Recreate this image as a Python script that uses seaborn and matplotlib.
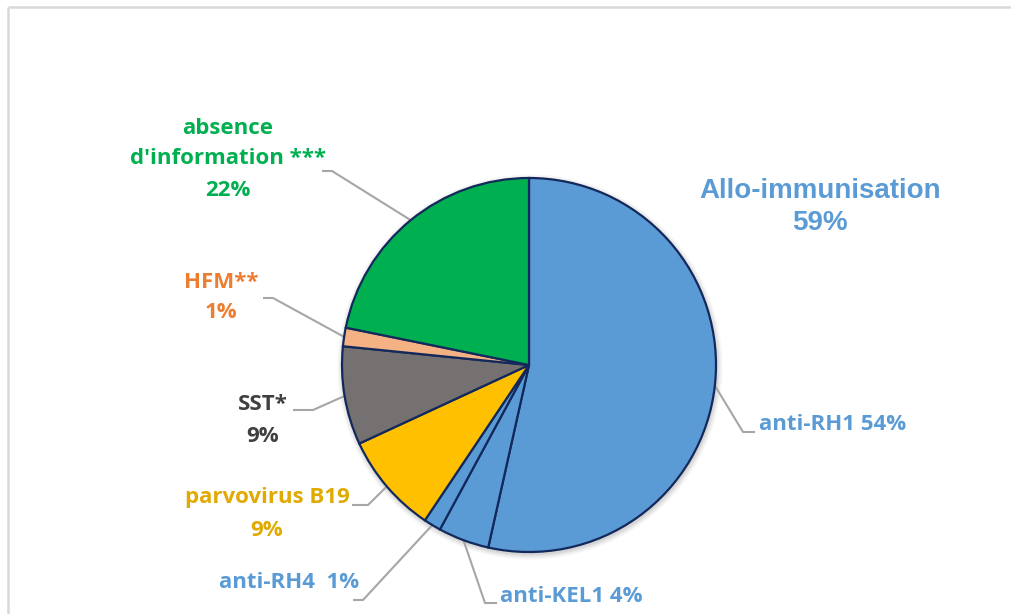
import matplotlib
matplotlib.use("Agg")
import matplotlib.pyplot as plt
import seaborn as sns
import numpy as np

# ---- data ----
categories = ["anti-RH1", "anti-KEL1", "anti-RH4", "parvovirus B19", "SST*", "HFM**",
              "absence d'information ***"]
values = [53.5, 4.4, 1.5, 8.7, 8.5, 1.6, 21.8]
pct_labels = ["54%", "4%", "1%", "9%", "9%", "1%", "22%"]
group_label = "Allo-immunisation"
group_pct = "59%"

# ---- style ----
sns.set_theme(style="white")
plt.rcParams['font.family'] = ['Open Sans', 'DejaVu Sans']

fill_colors = ["#5B9BD5", "#5B9BD5", "#5B9BD5", "#FFC000", "#767171", "#F4B183", "#00B050"]
text_colors = ["#5B9BD5", "#5B9BD5", "#5B9BD5", "#E0AA00", "#404040", "#ED7D31", "#00B050"]
edge_color = "#13295C"
leader_color = "#A6A6A6"

W, H = 1012, 614
fig = plt.figure(figsize=(W / 100, H / 100), dpi=100)
ax = fig.add_axes([0, 0, 1, 1])

cx, cy, R = 529, H - 365, 187

# subtle shadow
for i, a in enumerate([0.05, 0.05, 0.04, 0.03]):
    ax.add_patch(plt.Circle((cx + 1, cy - 2), R + 1 + i * 1.5, color="black", alpha=a,
                            lw=0, zorder=0))

wedges, _ = ax.pie(values, colors=fill_colors, startangle=90, counterclock=False,
                   center=(cx, cy), radius=R,
                   wedgeprops=dict(edgecolor=edge_color, linewidth=1.6))
for w in wedges:
    w.set_zorder(2)

ax.set_xlim(0, W)
ax.set_ylim(0, H)
ax.set_aspect('equal')
ax.axis('off')

def py(y):
    return H - y

# layout: (elbow_px, end_px) for each leader line
leaders = [
    ((743, 432), (755, 432)),
    ((485, 603), (497, 603)),
    ((363, 600), (353, 600)),
    ((368, 505), (352, 505)),
    ((313, 410), (293, 410)),
    ((273, 298), (263, 298)),
    ((332, 171), (322, 171)),
]
for w, (elbow, end) in zip(wedges, leaders):
    mid = np.deg2rad((w.theta1 + w.theta2) / 2)
    ex, ey = cx + R * np.cos(mid), cy + R * np.sin(mid)
    ax.plot([ex, elbow[0], end[0]], [ey, py(elbow[1]), py(end[1])],
            color=leader_color, lw=1.5, zorder=1, solid_capstyle='butt')

fs = 16
kw = dict(fontsize=fs, fontweight='bold', va='center')

# anti-RH1
ax.text(759, py(424), f"{categories[0]} {pct_labels[0]}", color=text_colors[0], ha='left', **kw)
# anti-KEL1
ax.text(500, py(596), f"{categories[1]} {pct_labels[1]}", color=text_colors[1], ha='left', **kw)
# anti-RH4
ax.text(359, py(583), f"{categories[2]}  {pct_labels[2]}", color=text_colors[2], ha='right', **kw)
# parvovirus
ax.text(267, py(497), categories[3], color=text_colors[3], ha='center', **kw)
ax.text(267, py(530), pct_labels[3], color=text_colors[3], ha='center', **kw)
# SST
ax.text(263, py(404), categories[4], color=text_colors[4], ha='center', **kw)
ax.text(263, py(436), pct_labels[4], color=text_colors[4], ha='center', **kw)
# HFM
ax.text(221, py(282), categories[5], color=text_colors[5], ha='center', **kw)
ax.text(221, py(313), pct_labels[5], color=text_colors[5], ha='center', **kw)
# absence d'information
ax.text(228, py(128), "absence", color=text_colors[6], ha='center', **kw)
ax.text(228, py(158), "d'information ***", color=text_colors[6], ha='center', **kw)
ax.text(228, py(190), pct_labels[6], color=text_colors[6], ha='center', **kw)

# group label
ax.text(820, py(191), group_label, color="#5B9BD5", fontsize=20, fontweight='bold',
        family=['Liberation Sans', 'DejaVu Sans'], ha='center', va='center')
ax.text(820, py(223), group_pct, color="#5B9BD5", fontsize=20, fontweight='bold',
        family=['Liberation Sans', 'DejaVu Sans'], ha='center', va='center')

# chart frame (top and left edges visible)
ax.plot([8, W], [py(7), py(7)], color="#D9D9D9", lw=1.8, zorder=0, solid_capstyle='butt')
ax.plot([8, 8], [py(7), 0], color="#D9D9D9", lw=1.8, zorder=0, solid_capstyle='butt')

fig.savefig("out.png", dpi=100, facecolor="white")
